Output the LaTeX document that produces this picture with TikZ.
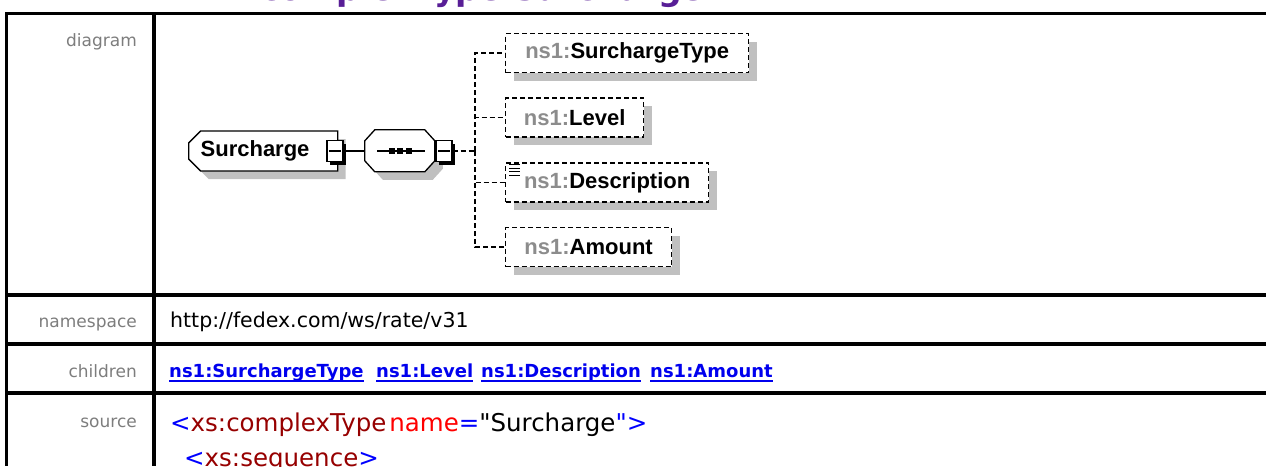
\documentclass[tikz,border=0pt]{standalone}
\usepackage{fontspec}
\setmainfont{DejaVu Sans}[Ligatures=TeXOff]
\newfontfamily\diagfont{Liberation Sans}
\usetikzlibrary{shapes.misc,shadows}

\definecolor{titlepurple}{RGB}{88,30,150}
\definecolor{labelgray}{RGB}{125,125,125}
\definecolor{nsgray}{RGB}{140,140,140}
\definecolor{shadowgray}{RGB}{192,192,192}
\definecolor{linkblue}{RGB}{0,0,238}
\definecolor{xmlblue}{RGB}{0,0,255}
\definecolor{xmlmaroon}{RGB}{150,0,0}
\definecolor{xmlred}{RGB}{255,0,0}

\begin{document}
\begin{tikzpicture}[x=1pt,y=-1pt,
    tblline/.style={line width=3.5pt},
    rowlabel/.style={anchor=base east, inner sep=0, text=labelgray, font=\fontsize{17}{20}\selectfont},
    celltext/.style={anchor=base west, inner sep=0},
    childlink/.style={anchor=base west, inner sep=0, text depth=4pt, text=linkblue, font=\fontsize{18}{21}\selectfont\bfseries},
    elem/.style={draw, line width=1.3pt, fill=white, inner sep=0, minimum height=39pt,
        font=\diagfont\fontsize{22}{26}\selectfont\bfseries,
        drop shadow={shadow xshift=8pt, shadow yshift=-8pt, fill=shadowgray, opacity=1}},
    optelem/.style={elem, dash pattern=on 5pt off 3pt},
    mbox/.style={draw, fill=white, line width=1.3pt, inner sep=0, minimum width=16pt, minimum height=21pt,
        drop shadow={shadow xshift=3pt, shadow yshift=-3pt, fill=black, opacity=1}},
    conn/.style={line width=1.3pt},
    optconn/.style={conn, dash pattern=on 5pt off 3pt}
]
\useasboundingbox (0,0) rectangle (1266,466);
\clip (0,0) rectangle (1266,466);

% cut off page heading
\node[anchor=base west, inner sep=0, text=titlepurple, font=\fontsize{33}{38}\selectfont\bfseries]
    (title) at (260,0.8) {complexType Surcharge};

% table frame
\draw[tblline] (5,13.5) -- (1266,13.5);
\draw[tblline] (6.5,12) -- (6.5,466);
\draw[tblline] (154,12) -- (154,466);
\foreach \y in {295,344,393}
    \draw[tblline] (5,\y) -- (1266,\y);

\node[rowlabel] (lbldiag) at (137,46) {diagram};
\node[rowlabel] (lblns) at (137,327) {namespace};
\node[rowlabel] (lblchild) at (137,377) {children};
\node[rowlabel] (lblsrc) at (137,427) {source};

% diagram
\node[elem, chamfered rectangle, chamfered rectangle corners={north west,south west},
    chamfered rectangle xsep=6pt, chamfered rectangle ysep=6pt,
    anchor=west, minimum width=149pt, minimum height=40pt, text width=125pt, align=left]
    (surch) at (188,151) {Surcharge};
\node[mbox] (m1) at (335,151) {};
\draw[line width=1.3pt] ([xshift=3pt]m1.west) -- ([xshift=-3pt]m1.east);

% sequence compositor
\node[inner sep=0, minimum width=70pt, minimum height=42pt] (seq) at (400,151) {};
\fill[shadowgray] ([xshift=8pt,yshift=-8pt]seq.north west) ++(0,11) -- ++(10,-11) -- ++(50,0) -- ++(10,11)
    -- ++(0,20) -- ++(-10,11) -- ++(-50,0) -- ++(-10,-11) -- cycle;
\draw[line width=1.3pt, fill=white] (seq.north west) ++(0,11) -- ++(10,-11) -- ++(50,0) -- ++(10,11)
    -- ++(0,20) -- ++(-10,11) -- ++(-50,0) -- ++(-10,-11) -- cycle;
\draw[line width=1.3pt] ([xshift=-23pt]seq.center) -- ([xshift=25pt]seq.center);
\foreach \dx in {-8.5,0,8.5}
    \fill ([xshift=\dx pt]seq.center) +(-3,-3) rectangle +(3,3);
\node[mbox] (m2) at (444,151) {};
\draw[line width=1.3pt] ([xshift=3pt]m2.west) -- ([xshift=-3pt]m2.east);

\node[optelem, anchor=west, minimum width=243pt] (st) at (505,53) {\textcolor{nsgray}{ns1:}SurchargeType};
\node[optelem, anchor=west, minimum width=138pt] (lv) at (505,117.5) {\textcolor{nsgray}{ns1:}Level};
\node[optelem, anchor=west, minimum width=203pt] (ds) at (505,182.5) {\textcolor{nsgray}{ns1:}Description};
\node[optelem, anchor=west, minimum width=166pt] (am) at (505,247) {\textcolor{nsgray}{ns1:}Amount};
\foreach \i in {0,...,3}
    \draw[line width=0.9pt] ([xshift=4pt,yshift=-(2.5+3.5*\i)*1pt]ds.north west) -- ++(11,0);

\coordinate (bus) at (475,151);
\draw[conn] (m1.east) -- (seq.west);
\draw[optconn] (m2.east) -- (bus);
\foreach \c in {st,lv,ds,am}
    \draw[optconn] (bus) |- (\c.west);

% namespace row
\node[celltext, font=\fontsize{20.5}{24}\selectfont] (nsurl) at (170,327) {http://fedex.com/ws/rate/v31};

% children row
\node[childlink] (lnkst) at (169,377) {ns1:SurchargeType};
\node[childlink] (lnklv) at (376,377) {ns1:Level};
\node[childlink] (lnkds) at (481,377) {ns1:Description};
\node[childlink] (lnkam) at (650,377) {ns1:Amount};
\foreach \l in {lnkst,lnklv,lnkds,lnkam}
    \draw[linkblue, line width=1.8pt] (\l.south west) -- (\l.south east);

% source row
\node[celltext, font=\fontsize{24.5}{28}\selectfont] (src1) at (170,431)
    {\textcolor{xmlblue}{<}\textcolor{xmlmaroon}{xs:complexType}\hspace{3pt}\textcolor{xmlred}{name}\textcolor{xmlblue}{=}"Surcharge\textcolor{xmlblue}{">}};
\node[celltext, font=\fontsize{24.5}{28}\selectfont] (src2) at (184,466)
    {\textcolor{xmlblue}{<}\textcolor{xmlmaroon}{xs:sequence}\textcolor{xmlblue}{>}};
\end{tikzpicture}
\end{document}
